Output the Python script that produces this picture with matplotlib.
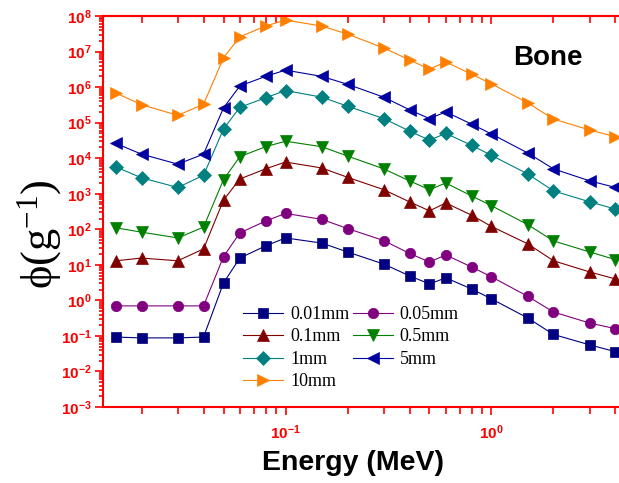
import numpy as np
import matplotlib

matplotlib.use('Agg')
import matplotlib.pyplot as plt
from matplotlib.ticker import LogLocator, NullFormatter, FixedLocator

plt.rcParams['mathtext.fontset'] = 'custom'
plt.rcParams['mathtext.rm'] = 'Liberation Serif'
plt.rcParams['mathtext.it'] = 'Liberation Serif:italic'
plt.rcParams['mathtext.bf'] = 'Liberation Sans:bold'

energy = [0.015, 0.02, 0.03, 0.04, 0.05, 0.06, 0.08, 0.1, 0.15, 0.2,
          0.3, 0.4, 0.5, 0.6, 0.8, 1.0, 1.5, 2.0, 3.0, 4.0]

phi_001 = [0.093, 0.088, 0.088, 0.093, 3.1, 15.5, 34, 57, 41, 23,
           10.5, 4.9, 2.9, 4.3, 2.1, 1.1, 0.32, 0.11, 0.056, 0.036]
phi_005 = [0.7, 0.7, 0.7, 0.7, 17, 79, 170, 280, 190, 105,
           48, 21, 12, 19, 8.7, 4.6, 1.3, 0.47, 0.23, 0.16]
phi_01 = [13, 15.5, 13, 28, 660, 2600, 5000, 7800, 5300, 2900,
          1300, 590, 330, 550, 250, 120, 39, 13, 6.3, 4.0]
phi_05 = [110, 83, 57, 115, 2500, 11000, 21000, 30000, 21000, 11500,
          5000, 2300, 1300, 2000, 870, 460, 135, 47, 23, 14]
phi_1 = [5700, 2800, 1500, 3300, 66000, 2.7e5, 5.0e5, 8.0e5, 5.2e5, 2.9e5,
         1.3e5, 58000, 32000, 50000, 23000, 12000, 3600, 1200, 590, 370]
phi_5 = [26000, 13000, 6800, 13000, 2.6e5, 1.07e6, 2.0e6, 3.0e6, 2.0e6, 1.2e6,
         5.2e5, 2.3e5, 1.3e5, 2.0e5, 91000, 48000, 14000, 5000, 2300, 1500]
phi_10 = [6.8e5, 3.2e5, 1.6e5, 3.3e5, 6.6e6, 2.6e7, 5.2e7, 7.7e7, 5.2e7, 3.1e7,
          1.26e7, 5.8e6, 3.2e6, 5.1e6, 2.3e6, 1.23e6, 3.6e5, 1.26e5, 6.2e4, 4.0e4]

labels = ['0.01mm', '0.05mm', '0.1mm', '0.5mm', '1mm', '5mm', '10mm']
series = [phi_001, phi_005, phi_01, phi_05, phi_1, phi_5, phi_10]
colors = ['#000080', '#800080', '#800000', '#008000', '#008080', '#0000A0', '#FF8000']
markers = ['s', 'o', '^', 'v', 'D', '<', '>']
msizes = [6.5, 7.5, 8, 8, 7, 8, 8]

red = '#FF0000'

fig = plt.figure(figsize=(6.19, 4.83), dpi=100)
ax = fig.add_axes([0.1664, 0.1573, 0.8336, 0.8096])

handles = []
for y, lab, c, m, ms in zip(series, labels, colors, markers, msizes):
    h, = ax.plot(energy, y, color=c, marker=m, markersize=ms, linewidth=0.8,
                 markeredgecolor=c, markeredgewidth=0.5, label=lab)
    handles.append(h)

ax.set_xscale('log')
ax.set_yscale('log')
ax.set_xlim(0.013, 4.16)
ax.set_ylim(1e-3, 1e8)

for side in ['left', 'bottom', 'top']:
    ax.spines[side].set_color(red)
    ax.spines[side].set_linewidth(1.5)
ax.spines['right'].set_visible(False)

ax.yaxis.set_major_locator(FixedLocator([10.0 ** k for k in range(-3, 9)]))
ax.set_yticklabels([r'$\mathbf{10^{%d}}$' % k for k in range(-3, 9)])
ax.yaxis.set_minor_locator(LogLocator(base=10, subs=np.arange(2, 10), numticks=20))
ax.yaxis.set_minor_formatter(NullFormatter())

ax.xaxis.set_major_locator(FixedLocator([0.1, 1.0]))
ax.set_xticklabels([r'$\mathbf{10^{-1}}$', r'$\mathbf{10^{0}}$'])
ax.xaxis.set_minor_locator(LogLocator(base=10, subs=np.arange(2, 10), numticks=20))
ax.xaxis.set_minor_formatter(NullFormatter())

ax.tick_params(axis='both', which='both', colors=red, labelcolor=red,
               direction='out', width=1.2)
ax.tick_params(axis='y', which='major', length=6, labelsize=11, pad=2)
ax.tick_params(axis='y', which='minor', length=3)
ax.tick_params(axis='x', which='major', length=6, labelsize=11, pad=6)
ax.tick_params(axis='x', which='minor', length=5)

top = ax.secondary_xaxis('top')
top.xaxis.set_major_locator(FixedLocator([0.1, 1.0]))
top.xaxis.set_minor_locator(LogLocator(base=10, subs=np.arange(2, 10), numticks=20))
top.xaxis.set_major_formatter(NullFormatter())
top.xaxis.set_minor_formatter(NullFormatter())
top.spines['top'].set_color(red)
top.spines['top'].set_linewidth(1.5)
top.tick_params(axis='x', which='both', direction='in', colors=red, width=1.2)
top.tick_params(axis='x', which='major', length=6)
top.tick_params(axis='x', which='minor', length=5)

ax.set_xlabel('Energy (MeV)', fontsize=20.5, fontweight='bold',
              family='Liberation Sans')
ax.xaxis.set_label_coords(0.4845, -0.111)

fig.text(40 / 619, 1 - 234 / 483, r'$\mathrm{\phi(g^{-1})}$', fontsize=32,
         rotation=90, ha='center', va='center')

ax.text(0.795, 0.893, 'Bone', transform=ax.transAxes, fontsize=20,
        fontweight='bold', family='Liberation Sans', ha='left', va='center')

order = [0, 2, 4, 6, 1, 3, 5]
leg = ax.legend([handles[i] for i in order], [labels[i] for i in order],
                ncol=2, frameon=False, loc='upper left',
                bbox_to_anchor=(243 / 619, 1 - 306 / 483),
                bbox_transform=fig.transFigure,
                prop={'family': 'Liberation Serif', 'size': 13},
                handlelength=2.2, handletextpad=0.4, columnspacing=0.2,
                labelspacing=0.3, borderpad=0, borderaxespad=0)

fig.savefig('out.png', dpi=100)
